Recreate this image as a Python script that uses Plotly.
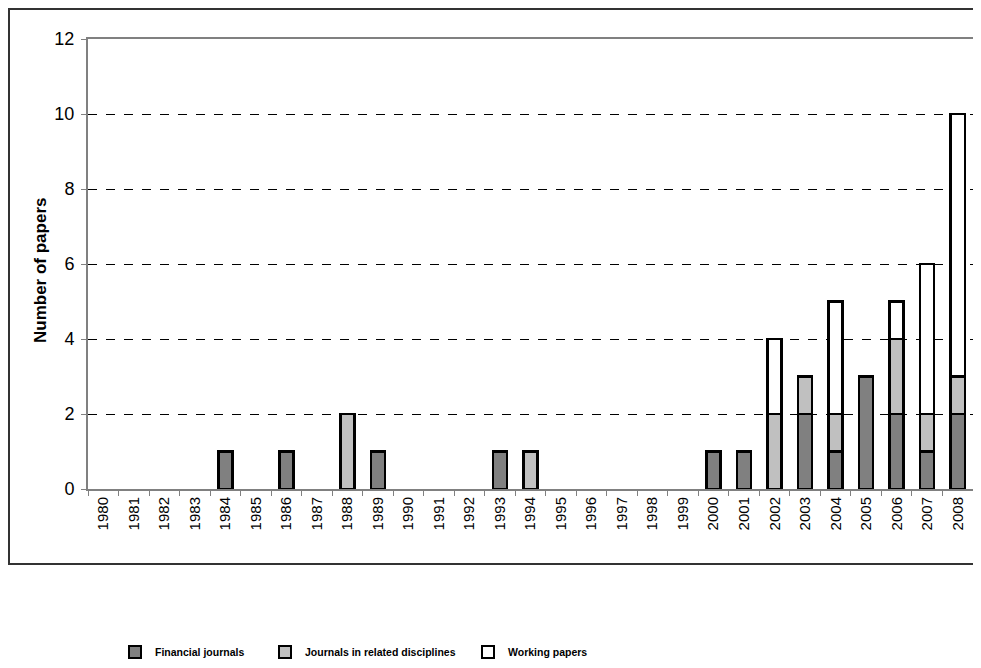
import plotly.graph_objects as go

years = [str(y) for y in range(1980, 2009)]
financial = [0,0,0,0,1,0,1,0,0,1,0,0,0,1,0,0,0,0,0,0,1,1,0,2,1,3,2,1,2]
related   = [0,0,0,0,0,0,0,0,2,0,0,0,0,0,1,0,0,0,0,0,0,0,2,1,1,0,2,1,1]
working   = [0,0,0,0,0,0,0,0,0,0,0,0,0,0,0,0,0,0,0,0,0,0,2,0,3,0,1,4,7]

series = [
    ("Financial journals", financial, "#808080", "legend"),
    ("Journals in related disciplines", related, "#C0C0C0", "legend2"),
    ("Working papers", working, "#FFFFFF", "legend3"),
]

fig = go.Figure()
for name, vals, col, lg in series:
    fig.add_trace(go.Bar(
        x=years, y=[v if v else None for v in vals], name=name,
        marker=dict(color=col, line=dict(color="black", width=2.5)),
        legend=lg,
    ))

# page body has an 8px margin; figure coords = screen coords - 8
OFF = 8
W, H = 981 - OFF, 668 - OFF
L, R, T, B = 88 - OFF, 973 - OFF, 39 - OFF, 489 - OFF
pw, ph = R - L, B - T

def px(x):
    return (x - OFF - L) / pw

def py(y):
    return (B - (y - OFF)) / ph

legfont = dict(family="Liberation Sans, Arial", size=10.5, color="black", weight="bold")
leg_common = dict(orientation="h", yanchor="middle", xanchor="left", font=legfont,
                  bgcolor="rgba(0,0,0,0)", itemsizing="constant")

fig.update_layout(
    width=W, height=H,
    margin=dict(l=L, r=W - R, t=T, b=H - B, autoexpand=False),
    paper_bgcolor="white", plot_bgcolor="white",
    barmode="stack", bargap=0.54,
    font=dict(family="Liberation Sans, Arial", color="black"),
    showlegend=True,
    legend=dict(x=px(115), y=py(652), **leg_common),
    legend2=dict(x=px(265), y=py(652), **leg_common),
    legend3=dict(x=px(468), y=py(652), **leg_common),
    xaxis=dict(type="category", tickangle=-90, tickfont=dict(size=15),
               automargin=False,
               showline=True, linecolor="#808080", linewidth=2, mirror=True,
               ticks="outside", ticklen=5, tickcolor="#808080", tickwidth=1,
               tickson="boundaries", showgrid=False),
    yaxis=dict(range=[0, 12], dtick=2, tickfont=dict(size=18),
               automargin=False, ticklabelstandoff=3,
               showline=True, linecolor="#808080", linewidth=2, mirror=True,
               ticks="outside", ticklen=5, tickcolor="#808080",
               showgrid=True, gridcolor="black", gridwidth=1, griddash="dash",
               zeroline=False),
    annotations=[dict(text="Number of papers", textangle=-90, showarrow=False,
                      xref="paper", yref="paper", x=px(40), y=py(271),
                      xanchor="center", yanchor="middle",
                      font=dict(size=17, weight="bold", family="Liberation Sans, Arial"))],
    shapes=[dict(type="rect", xref="paper", yref="paper",
                 x0=px(9), x1=px(1000), y0=py(564), y1=py(9),
                 line=dict(color="#333333", width=2), fillcolor="rgba(0,0,0,0)", layer="below")],
)

fig.write_html("out.html")
